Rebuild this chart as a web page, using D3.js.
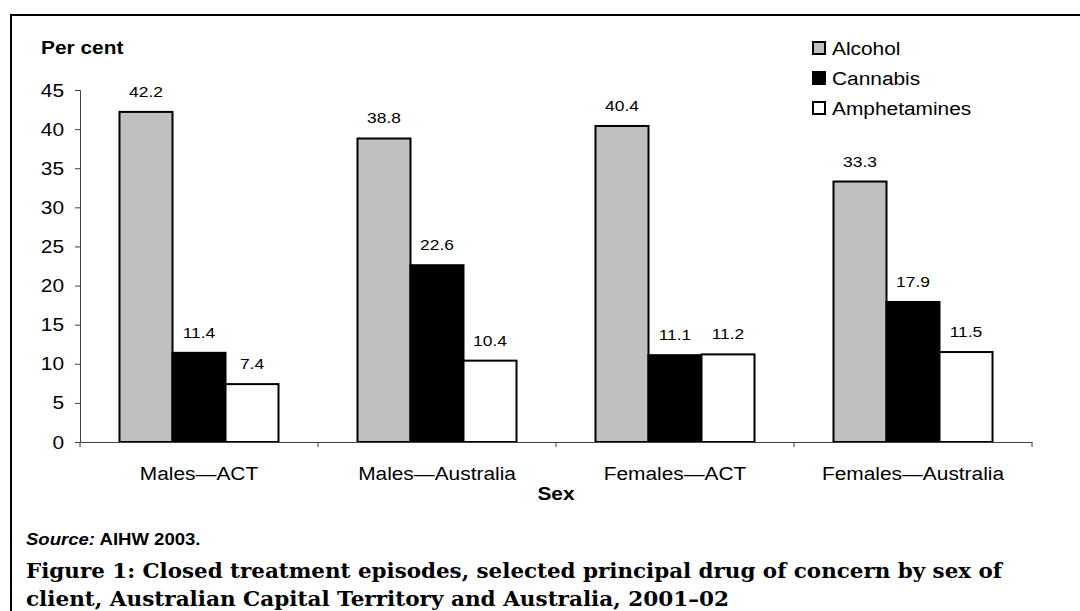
<!DOCTYPE html>
<html>
<head>
<meta charset="utf-8">
<script src="https://cdn.jsdelivr.net/npm/d3@7"></script>
<style>
  body { margin: 0; background: #fff; }
  svg { display: block; }
  text { font-family: Arial, "Liberation Sans", sans-serif; fill: #000; }
</style>
</head>
<body>
<svg id="chart" width="1080" height="611"></svg>
<script>
const categories = ['Males\u2014ACT', 'Males\u2014Australia', 'Females\u2014ACT', 'Females\u2014Australia'];
const series = ['Alcohol', 'Cannabis', 'Amphetamines'];
const alcohol = [42.2, 38.8, 40.4, 33.3];
const cannabis = [11.4, 22.6, 11.1, 17.9];
const amphetamines = [7.4, 10.4, 11.2, 11.5];
const yTicks = [0, 5, 10, 15, 20, 25, 30, 35, 40, 45];
const colours = ['#c0c0c0', '#000000', '#ffffff'];

const values = [alcohol, cannabis, amphetamines];
const rows = categories.map((c, i) => ({cat: c, vals: series.map((s, j) => ({s, v: values[j][i]}))}));

const svg = d3.select('#chart');
const stretch = 1.16; // source text looks wider than its height

// text drawn with a horizontal stretch, as in the original figure
function label(parent, x, y, str, size, anchor, weight) {
  return parent.append('text')
    .attr('transform', `translate(${x},${y}) scale(${stretch},1)`)
    .attr('text-anchor', anchor || 'start')
    .style('font-size', size + 'px')
    .style('font-weight', weight || 'normal')
    .text(str);
}

// outer frame (runs off the right and bottom edge)
svg.append('rect')
  .attr('x', 11).attr('y', 15)
  .attr('width', 1100).attr('height', 700)
  .attr('fill', 'none').attr('stroke', '#000').attr('stroke-width', 2);

const x0 = d3.scaleBand().domain(categories).range([80, 1032]).paddingInner(0).paddingOuter(0);
const x1 = d3.scaleBand().domain(series).range([0, x0.bandwidth()]).paddingInner(0).paddingOuter(0.745);
const y = d3.scaleLinear().domain([0, 45]).range([442, 90]);
const colour = d3.scaleOrdinal().domain(series).range(colours);

// y axis
const yAxis = svg.append('g').attr('transform', 'translate(80,0)')
  .call(d3.axisLeft(y).tickValues(yTicks).tickSize(5).tickFormat(''));
yAxis.select('.domain').attr('stroke', '#404040');
yAxis.selectAll('.tick line').attr('stroke', '#404040');
yTicks.forEach(t => label(svg, 64, y(t) + 6.5, t, 18, 'end'));

// bars
const groups = svg.selectAll('g.cat').data(rows).join('g')
  .attr('class', 'cat')
  .attr('transform', d => `translate(${x0(d.cat)},0)`);

groups.selectAll('rect').data(d => d.vals).join('rect')
  .attr('x', d => x1(d.s))
  .attr('y', d => y(d.v))
  .attr('width', x1.bandwidth())
  .attr('height', d => y(0) - y(d.v))
  .attr('fill', d => colour(d.s))
  .attr('stroke', '#000')
  .attr('stroke-width', 2);

groups.each(function (d) {
  const g = d3.select(this);
  d.vals.forEach(v => label(g, x1(v.s) + x1.bandwidth() / 2, y(v.v) - 15, v.v.toFixed(1), 15, 'middle'));
});

// x axis
const xAxis = svg.append('g').attr('transform', 'translate(0,442)')
  .call(d3.axisBottom(x0).tickSize(0).tickFormat(''));
xAxis.select('.domain').attr('stroke', '#404040');
[0, 1, 2, 3, 4].forEach(i => {
  const xp = 80 + i * x0.step();
  xAxis.append('line').attr('x1', xp).attr('x2', xp).attr('y1', 0).attr('y2', 5).attr('stroke', '#404040');
});
categories.forEach(c => label(svg, x0(c) + x0.bandwidth() / 2, 480, c, 18, 'middle'));

// axis titles
label(svg, 556, 500, 'Sex', 18, 'middle', 'bold');
label(svg, 41, 54, 'Per cent', 18, 'start', 'bold');

// legend
const legend = svg.append('g').attr('transform', 'translate(813,42)');
series.forEach((s, i) => {
  legend.append('rect')
    .attr('x', 0).attr('y', i * 30)
    .attr('width', 12).attr('height', 12)
    .attr('fill', colour(s)).attr('stroke', '#000').attr('stroke-width', 2);
  label(legend, 19, i * 30 + 13, s, 18, 'start');
});

// source note
const src = svg.append('text')
  .attr('transform', `translate(26,545) scale(${stretch},1)`)
  .style('font-size', '16px').style('font-weight', 'bold');
src.append('tspan').style('font-style', 'italic').text('Source:');
src.append('tspan').text(' AIHW 2003.');

// caption
svg.append('text')
  .attr('x', 26).attr('y', 578)
  .attr('textLength', 976).attr('lengthAdjust', 'spacingAndGlyphs')
  .style('font-family', '"DejaVu Serif", "Liberation Serif", serif')
  .style('font-size', '20px').style('font-weight', 'bold')
  .text('Figure 1: Closed treatment episodes, selected principal drug of concern by sex of');
svg.append('text')
  .attr('x', 26).attr('y', 606)
  .attr('textLength', 703).attr('lengthAdjust', 'spacingAndGlyphs')
  .style('font-family', '"DejaVu Serif", "Liberation Serif", serif')
  .style('font-size', '20px').style('font-weight', 'bold')
  .text('client, Australian Capital Territory and Australia, 2001\u201302');
</script>
</body>
</html>
